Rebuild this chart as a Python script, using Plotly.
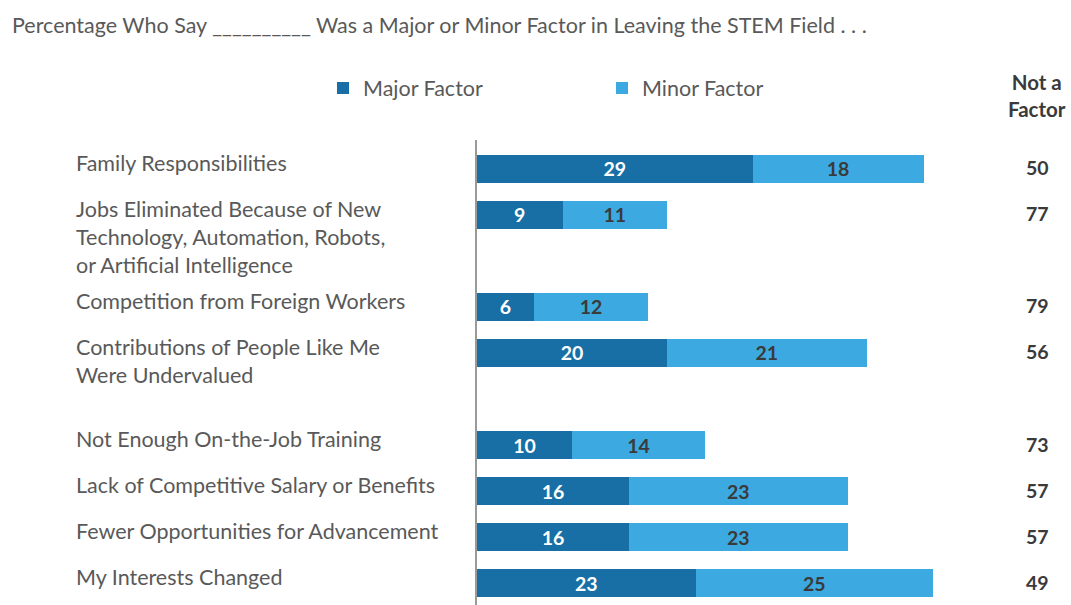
import plotly.graph_objects as go

# ---- data ----
categories = [
    "Family Responsibilities",
    "Jobs Eliminated Because of New<br>Technology, Automation, Robots,<br>or Artificial Intelligence",
    "Competition from Foreign Workers",
    "Contributions of People Like Me<br>Were Undervalued",
    "Not Enough On-the-Job Training",
    "Lack of Competitive Salary or Benefits",
    "Fewer Opportunities for Advancement",
    "My Interests Changed",
]
major = [29, 9, 6, 20, 10, 16, 16, 23]
minor = [18, 11, 12, 21, 14, 23, 23, 25]
not_factor = [50, 77, 79, 56, 73, 57, 57, 49]
series_names = ["Major Factor", "Minor Factor"]
title_text = "Percentage Who Say __________ Was a Major or Minor Factor in Leaving the STEM Field . . ."
not_factor_header = "Not a<br>Factor"

# ---- style ----
MAJOR_COLOR = "#176fa5"
MINOR_COLOR = "#3caae1"
LABEL_COLOR = "#595959"
NUM_COLOR = "#3a3a3a"
FONT = "Lato"
TXT = 21.5

W, H = 1071, 605
L, R, T, B = 477, 0, 140, 0
plot_w = W - L - R

# category slots with two blank spacer slots (visual gaps in the original)
slots = [categories[0], categories[1], " ", categories[2], categories[3], "  ",
         categories[4], categories[5], categories[6], categories[7]]

fig = go.Figure()
fig.add_trace(go.Bar(
    y=categories, x=major, orientation="h", name=series_names[0],
    marker=dict(color=MAJOR_COLOR, line=dict(width=0)),
    text=major, texttemplate="<b>%{text}</b>", textposition="inside",
    insidetextanchor="middle", constraintext="none", textangle=0,
    textfont=dict(color="white", size=19.5, family=FONT),
))
fig.add_trace(go.Bar(
    y=categories, x=minor, orientation="h", name=series_names[1],
    marker=dict(color=MINOR_COLOR, line=dict(width=0)),
    text=minor, texttemplate="<b>%{text}</b>", textposition="inside",
    insidetextanchor="middle", constraintext="none", textangle=0,
    textfont=dict(color=NUM_COLOR, size=19.5, family=FONT),
))

annotations = []
label_x = (74 - L) / plot_w
nf_x = (1037 - L) / plot_w
for cat, nf in zip(categories, not_factor):
    annotations.append(dict(
        x=label_x, xref="paper", y=cat, yref="y", text=cat,
        xanchor="left", yanchor="top", align="left", yshift=21,
        showarrow=False, font=dict(size=TXT, color=LABEL_COLOR, family=FONT),
    ))
    annotations.append(dict(
        x=nf_x, xref="paper", y=cat, yref="y", text=f"<b>{nf}</b>",
        xanchor="center", yanchor="middle", showarrow=False, yshift=1,
        font=dict(size=19.5, color=NUM_COLOR, family=FONT),
    ))
annotations.append(dict(
    x=nf_x, xref="paper", y=1 + (T - 95) / (H - T - B), yref="paper",
    text=f"<b>{not_factor_header}</b>", xanchor="center", yanchor="middle",
    align="center", showarrow=False,
    font=dict(size=20.5, color=NUM_COLOR, family=FONT),
))

fig.update_layout(
    width=W, height=H,
    margin=dict(l=L, r=R, t=T, b=B, pad=0),
    paper_bgcolor="white", plot_bgcolor="white",
    barmode="stack", bargap=0.38,
    font=dict(family=FONT, color=LABEL_COLOR),
    title=dict(
        text=title_text, x=12 / W, xanchor="left", xref="container",
        y=1 - 25 / H, yanchor="middle", yref="container",
        font=dict(size=TXT, color=LABEL_COLOR, family=FONT),
    ),
    legend=dict(
        orientation="h", x=(323 - L) / plot_w, xanchor="left",
        y=1 + (T - 88) / (H - T - B), yanchor="middle",
        font=dict(size=TXT, color=LABEL_COLOR, family=FONT),
        entrywidth=234, traceorder="normal", bgcolor="rgba(0,0,0,0)",
    ),
    xaxis=dict(range=[0, plot_w / 9.5], showgrid=False, zeroline=False,
               showticklabels=False, showline=False, fixedrange=True),
    yaxis=dict(type="category", categoryorder="array", categoryarray=slots,
               range=[9.478, -0.630], autorange=False, showgrid=False,
               zeroline=False, showticklabels=False, ticks="",
               showline=True, linecolor="#9a9a9a", linewidth=1.5),
    annotations=annotations,
    showlegend=True,
)

fig.write_html("out.html",
               config={"displayModeBar": False},
               post_script="document.body.style.margin='0';document.body.style.overflow='hidden';")
